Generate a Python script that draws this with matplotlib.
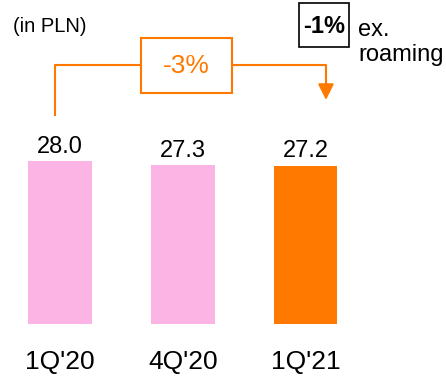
import matplotlib
matplotlib.use("Agg")
import matplotlib.pyplot as plt
from matplotlib.patches import Rectangle

plt.rcParams['font.family'] = ['Liberation Sans', 'DejaVu Sans']

quarters = ["1Q'20", "4Q'20", "1Q'21"]
values = [28.0, 27.3, 27.2]
colors = ['#FCB4E4', '#FCB4E4', '#FF7900']
change_label = '-3%'
ex_roaming_label = '-1%'

orange = '#FF7900'

fig = plt.figure(figsize=(4.46, 3.77), dpi=100)
ax = fig.add_axes([0, 0, 1, 1])
ax.set_xlim(-0.489, 3.145)
ax.set_ylim(-9.1, 55.67)
ax.axis('off')

x = list(range(len(quarters)))
ax.bar(x, values, width=0.52, color=colors)

for xi, v in zip(x, values):
    ax.text(xi, v + 0.6, f'{v:.1f}', ha='center', va='bottom', fontsize=17)
for xi, q in zip(x, quarters):
    ax.text(xi, -6.6, q, ha='center', va='center', fontsize=19)

ax.text(-0.38, 51.2, '(in PLN)', ha='left', va='center', fontsize=14.5)

# bracket from first bar to last bar with the change box
y_line = 44.5
ax.plot([-0.04, -0.04, 0.66], [35.7, y_line, y_line], color=orange, lw=1.5,
        solid_capstyle='butt')
ax.plot([1.40, 2.167, 2.167], [y_line, y_line, 41.0], color=orange, lw=1.5,
        solid_capstyle='butt')
ax.annotate('', xy=(2.167, 38.5), xytext=(2.167, 41.5),
            arrowprops=dict(arrowstyle='-|>', color=orange, lw=1.5,
                            mutation_scale=24, shrinkA=0, shrinkB=0))
ax.add_patch(Rectangle((0.66, 39.7), 0.74, 9.4, fill=False,
                       edgecolor=orange, lw=1.5))
ax.text(1.03, 44.3, change_label, ha='center', va='center', fontsize=19,
        color=orange)

# ex. roaming note
ax.add_patch(Rectangle((1.947, 47.6), 0.407, 7.6, fill=False,
                       edgecolor='black', lw=1.2))
ax.text(2.15, 51.2, ex_roaming_label, ha='center', va='center', fontsize=17,
        fontweight='bold')
ax.text(2.43, 50.6, 'ex.', ha='left', va='center', fontsize=17)
ax.text(2.43, 46.2, 'roaming', ha='left', va='center', fontsize=17)

fig.savefig('out.png', dpi=100)
